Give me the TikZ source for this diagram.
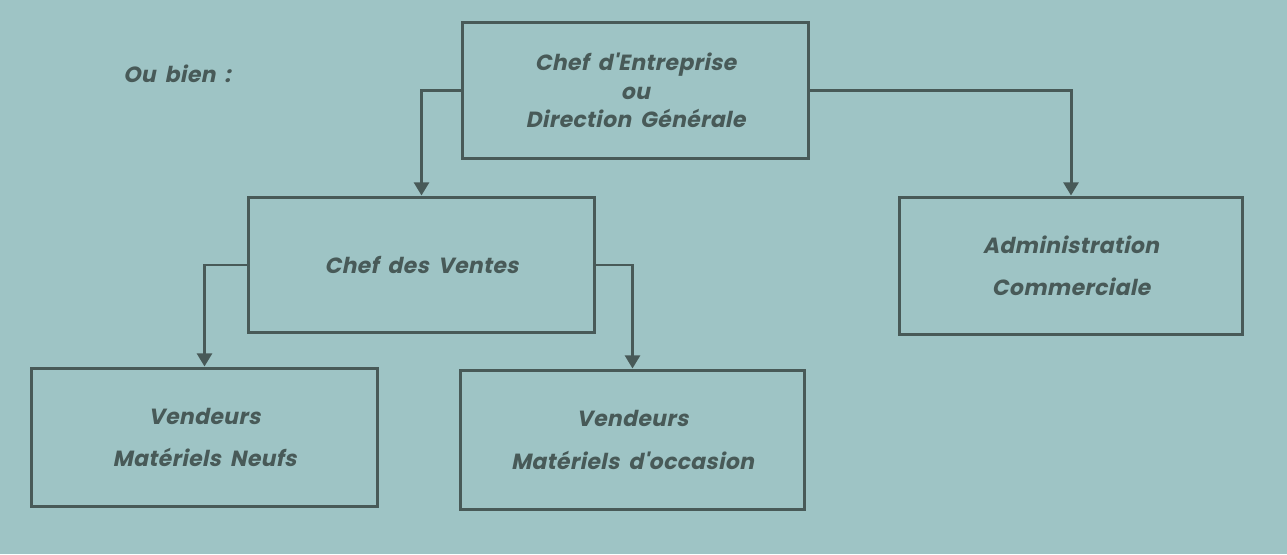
\documentclass[tikz,border=0pt]{standalone}
\usepackage{fontspec}
\newfontfamily\lab{Poppins}[FakeSlant=0.2,LetterSpace=1.5,WordSpace=1.8]
\usetikzlibrary{arrows.meta}
\definecolor{bg}{HTML}{9EC4C5}
\definecolor{ink}{HTML}{485A58}
\begin{document}
\begin{tikzpicture}[x=0.02cm,y=-0.02cm,
  box/.style={draw=ink,line width=1.7pt,inner sep=0pt,align=center,text=ink,
    font=\lab\bfseries\fontsize{12.5}{24}\selectfont},
  arr/.style={draw=ink,line width=1.7pt,-{Triangle[width=8.5pt,length=7.5pt]}},
  lbl/.style={text=ink,font=\lab\bfseries\fontsize{12.5}{15}\selectfont,inner sep=0pt}]
\fill[bg] (0,0) rectangle (1287,554);
\useasboundingbox (0,0) rectangle (1287,554);
\node[box,minimum width=6.94cm,minimum height=2.74cm,font=\lab\bfseries\fontsize{12.5}{16.2}\selectfont] (top) at (635.5,90.5) {Chef d'Entreprise\\ou\\Direction Générale};
\node[box,minimum width=6.94cm,minimum height=2.72cm] (cdv) at (421.5,265) {Chef des Ventes};
\node[box,minimum width=6.88cm,minimum height=2.76cm] (adm) at (1071,266) {Administration\\Commerciale};
\node[box,minimum width=6.94cm,minimum height=2.78cm] (vn) at (204.5,437.5) {Vendeurs\\Matériels Neufs};
\node[box,minimum width=6.90cm,minimum height=2.80cm] (vo) at (632.5,440) {Vendeurs\\Matériels d'occasion};
\node[lbl,anchor=base west] (ou) at (123,83) {Ou bien :};
\draw[arr] (top.west) -| (cdv.north);
\draw[arr] (top.east) -| (adm.north);
\draw[arr] (cdv.west) -| (vn.north);
\draw[arr] (cdv.east) -| (vo.north);
\end{tikzpicture}
\end{document}
